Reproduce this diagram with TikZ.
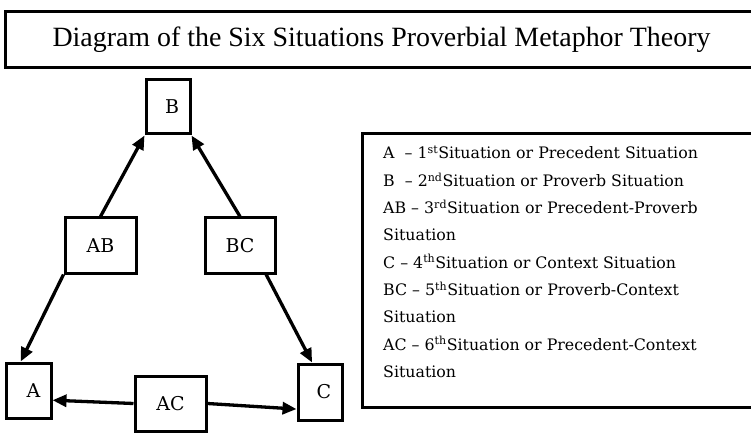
\documentclass[tikz,border=0pt]{standalone}
\usepackage{fontspec}
\setmainfont{DejaVu Serif}
\newfontfamily\titlefont{Liberation Serif}
\usetikzlibrary{positioning,arrows.meta}
\tikzset{
  sitbox/.style={draw, line width=3pt, inner sep=0pt, font=\fontsize{19}{22}\selectfont},
  arr/.style={line width=3.3pt, -{Triangle[length=14pt,width=12pt]}}
}
\begin{document}
\begin{tikzpicture}[x=1pt, y=-1pt]
      \useasboundingbox (0, 0) rectangle (751, 435);
      \draw [line width=3pt] (5, 12) rectangle (760, 68)
            node (title) [pos=.5, xshift=-1pt, font=\titlefont\fontsize{27.9}{30}\selectfont] {Diagram of the Six Situations Proverbial Metaphor Theory};
      \node (B) [sitbox, minimum width=44pt, minimum height=54pt] at (168, 107) {\hspace{8pt}B};
      \node (AB) [sitbox, minimum width=71pt, minimum height=55pt] at (100.5, 245.5) {AB};
      \node (BC) [sitbox, minimum width=70pt, minimum height=55pt] at (240, 245.5) {BC};
      \node (A) [sitbox, minimum width=45pt, minimum height=55pt] at (28.5, 390.5) {\hspace{10pt}A};
      \node (C) [sitbox, minimum width=44pt, minimum height=56pt] at (320, 392) {\hspace{8pt}C};
      \node (AC) [sitbox, minimum width=71pt, minimum height=55pt] at (170.5, 403.5) {AC};
      \draw [line width=3pt] (362, 134) rectangle (760, 407)
            node (legend) [pos=.5] {};
      \node (items) [anchor=north west, align=left, inner sep=0pt,
                     font=\fontsize{15.8}{27.3}\selectfont] at (383, 146)
            {A\ \ -- 1\textsuperscript{st}Situation or Precedent Situation\\
             B\ \ -- 2\textsuperscript{nd}Situation or Proverb Situation\\
             AB -- 3\textsuperscript{rd}Situation or Precedent-Proverb\\
             Situation\\
             C -- 4\textsuperscript{th}Situation or Context Situation\\
             BC -- 5\textsuperscript{th}Situation or Proverb-Context\\
             Situation\\
             AC -- 6\textsuperscript{th}Situation or Precedent-Context\\
             Situation};
      \path (AB.north) edge [arr] (B.south west)
            (BC.north) edge [arr] (B.south east)
            (AB.south west) edge [arr] (A.105)
            (BC.-48) edge [arr] (C.105)
            (AC.west) edge [arr] (A.-22)
            (AC.east) edge [arr] (C.216);
\end{tikzpicture}
\end{document}
